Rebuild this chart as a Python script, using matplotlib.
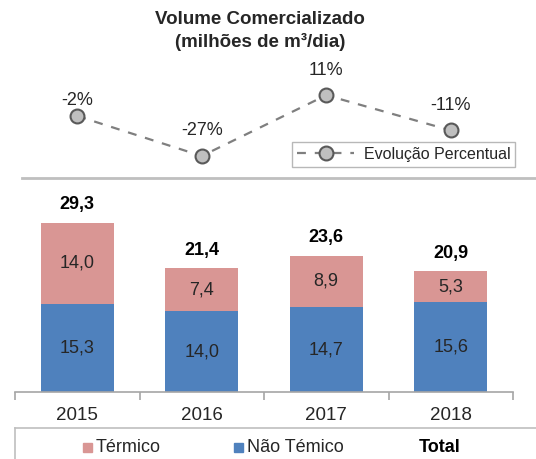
import matplotlib.pyplot as plt
from matplotlib.patches import Rectangle
from matplotlib.lines import Line2D

plt.rcParams['font.family'] = ['Liberation Sans', 'DejaVu Sans']

anos = ['2015', '2016', '2017', '2018']
nao_termico = [15.3, 14.0, 14.7, 15.6]
termico = [14.0, 7.4, 8.9, 5.3]
total = [29.3, 21.4, 23.6, 20.9]
evolucao = [-2, -27, 11, -11]

cor_termico = '#D99694'
cor_nao_termico = '#4F81BD'
cinza_txt = '#262626'

W, H = 536, 459
fig = plt.figure(figsize=(W / 100, H / 100), dpi=100)


def px(x0, y0, x1, y1):
    # pixel box (top-left origin) -> figure fraction rect
    return [x0 / W, 1 - y1 / H, (x1 - x0) / W, (y1 - y0) / H]


# bars
ax = fig.add_axes(px(15, 190, 513, 392))
x = range(len(anos))
ax.bar(x, nao_termico, width=0.59, color=cor_nao_termico)
ax.bar(x, termico, width=0.59, bottom=nao_termico, color=cor_termico)
for i in x:
    ax.text(i, nao_termico[i] / 2, f'{nao_termico[i]:.1f}'.replace('.', ','),
            ha='center', va='center', fontsize=13, color=cinza_txt)
    ax.text(i, nao_termico[i] + termico[i] / 2, f'{termico[i]:.1f}'.replace('.', ','),
            ha='center', va='center', fontsize=13, color=cinza_txt)
    ax.text(i, total[i] + 1.7, f'{total[i]:.1f}'.replace('.', ','),
            ha='center', va='bottom', fontsize=13, fontweight='bold', color='black')
ax.set_xlim(-0.5, 3.5)
ax.set_ylim(0, 35)
ax.set_yticks([])
for s in ['top', 'right', 'left']:
    ax.spines[s].set_visible(False)
ax.spines['bottom'].set_color('#A6A6A6')
ax.spines['bottom'].set_linewidth(1.2)
ax.set_xticks([-0.5, 0.5, 1.5, 2.5, 3.5], minor=False)
ax.set_xticklabels([])
ax.tick_params(axis='x', which='major', length=6, color='#A6A6A6', width=1.2)
ax.set_xticks(list(x), minor=True)
ax.set_xticklabels(anos, minor=True)
ax.tick_params(axis='x', which='minor', length=0, pad=11, labelsize=13.5, labelcolor=cinza_txt)

# line
ax2 = fig.add_axes(px(15, 80.8, 513, 176.8))
ax2.plot(list(x), evolucao, ls=(0, (4, 4)), color='#7F7F7F', lw=1.6,
         marker='o', markersize=10, markerfacecolor='#BFBFBF',
         markeredgecolor='#595959', markeredgewidth=1.5,
         label='Evolução Percentual')
deslocamento = [5, 12, 12, 12]
for i in x:
    ax2.annotate(f'{evolucao[i]}%', (i, evolucao[i]), xytext=(0, deslocamento[i]),
                 textcoords='offset points', ha='center', va='bottom',
                 fontsize=13, color=cinza_txt)
ax2.set_xlim(-0.5, 3.5)
ax2.set_ylim(-40, 20)
ax2.axis('off')
leg = ax2.legend(loc='upper left', bbox_to_anchor=(292 / W, 1 - 142 / H),
                 bbox_transform=fig.transFigure, frameon=True, fancybox=False,
                 fontsize=11.5, handlelength=3.6, borderpad=0.3, handletextpad=0.6,
                 borderaxespad=0, labelcolor=cinza_txt)
leg.get_frame().set_edgecolor('#A6A6A6')
leg.get_frame().set_linewidth(1.0)

fig.suptitle('Volume Comercializado\n(milhões de m³/dia)', x=260 / W, y=1 - 11 / H,
             fontsize=13.5, fontweight='bold', color=cinza_txt, linespacing=1.35)

# separator line
fig.add_artist(Line2D([22 / W, 1], [1 - 178 / H] * 2, color='#BFBFBF', lw=2))

# bottom legend box
fig.add_artist(Line2D([15 / W, 1], [1 - 428 / H] * 2, color='#BFBFBF', lw=1.2))
fig.add_artist(Line2D([15 / W, 15 / W], [0, 1 - 428 / H], color='#BFBFBF', lw=1.2))
legenda = ['Térmico', 'Não Témico']
cores = [cor_termico, cor_nao_termico]
pos_x = [83, 234]
for lab, c, xx in zip(legenda, cores, pos_x):
    fig.add_artist(Rectangle((xx / W, 1 - 452 / H), 9 / W, 9 / H, color=c,
                             transform=fig.transFigure))
    fig.text((xx + 13) / W, 1 - 447 / H, lab, fontsize=13, va='center',
             color=cinza_txt)
fig.text(419 / W, 1 - 447 / H, 'Total', fontsize=13, va='center',
         fontweight='bold', color='black')

fig.savefig('out.png', dpi=100)
